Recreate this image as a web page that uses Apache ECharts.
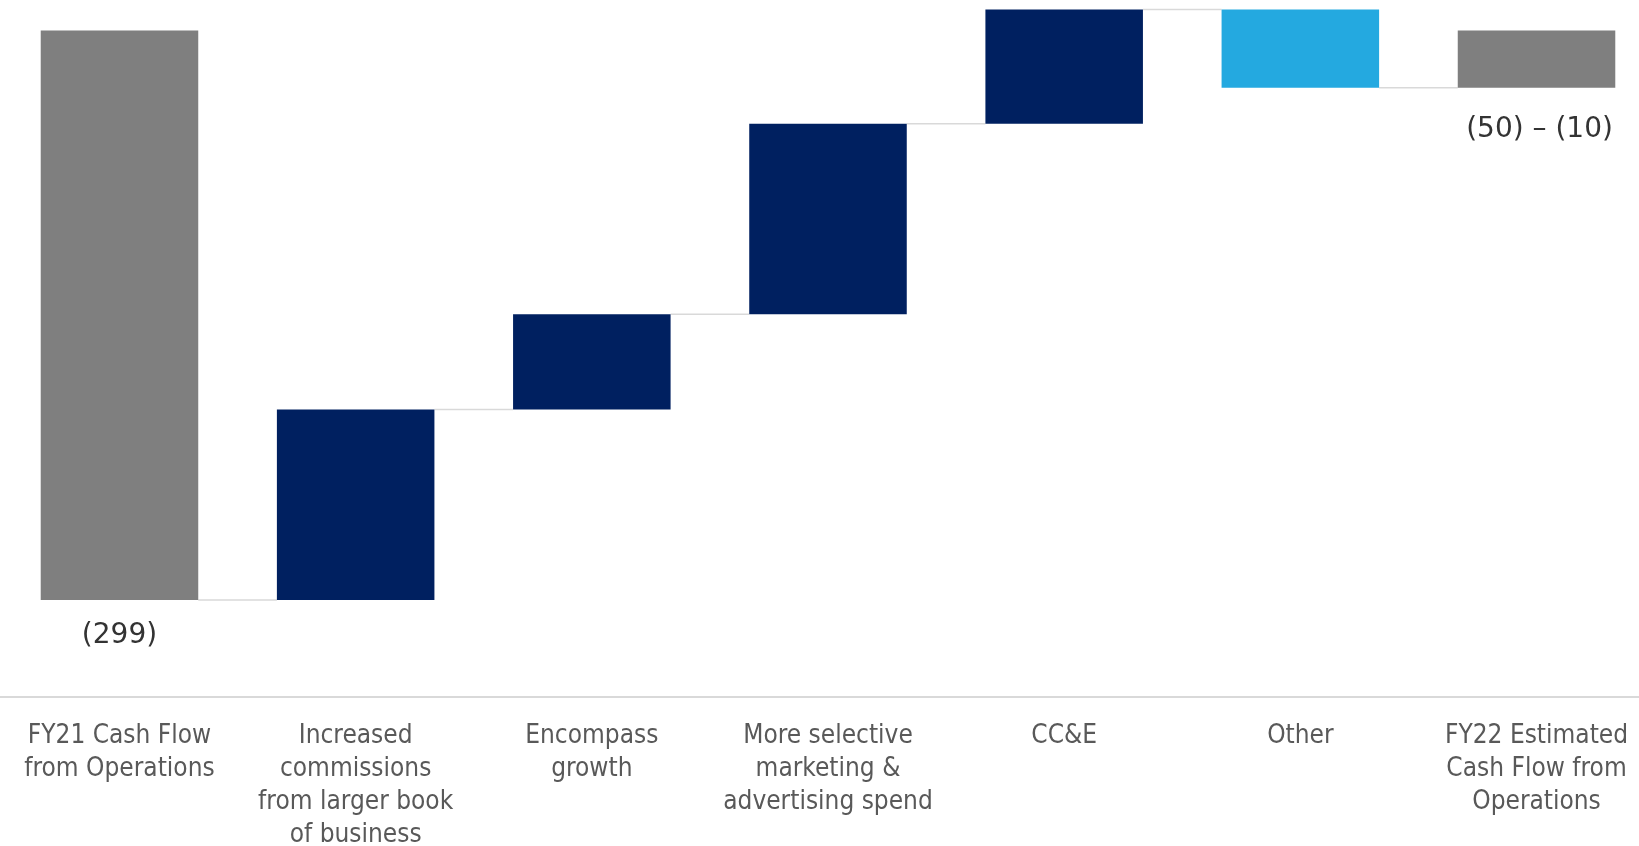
<!DOCTYPE html>
<html>
<head>
<meta charset="utf-8">
<style>
  html, body { margin: 0; padding: 0; background: #ffffff; }
  #chart { width: 1639px; height: 846px; }
</style>
<script src="https://cdn.jsdelivr.net/npm/echarts@6/dist/echarts.min.js"></script>
</head>
<body>
<div id="chart"></div>
<script>
// Cash flow bridge, FY21 -> FY22 estimate ($M)
const categories = [
  'FY21 Cash Flow\nfrom Operations',
  'Increased\ncommissions\nfrom larger book\nof business',
  'Encompass\ngrowth',
  'More selective\nmarketing &\nadvertising spend',
  'CC&E',
  'Other',
  'FY22 Estimated\nCash Flow from\nOperations'
];
// totals are absolute levels, steps are changes from the previous level
const kinds = ['total', 'step', 'step', 'step', 'step', 'step', 'total'];
const values = [-299, 100, 50, 100, 60, -41, -30];
const valueLabels = ['(299)', '', '', '', '', '', '(50) \u2013 (10)'];

const COLORS = {
  total: '#7f7f7f',
  up: '#002060',
  down: '#24a9e0',
  connector: '#d9d9d9',
  label: '#333333',
  axisText: '#595959'
};

// running start/end of every bar
const bars = [];
let level = 0;
values.forEach((v, i) => {
  let start, end;
  if (kinds[i] === 'total') { start = 0; end = v; }
  else { start = level; end = level + v; }
  level = end;
  bars.push([i, start, end]);
});

const BAR_RATIO = 0.667;

function renderBar(params, api) {
  const i = api.value(0);
  const start = api.value(1);
  const end = api.value(2);
  const band = api.size([1, 0])[0];
  const w = band * BAR_RATIO;
  const p0 = api.coord([i, start]);
  const p1 = api.coord([i, end]);
  const top = Math.min(p0[1], p1[1]);
  const h = Math.abs(p1[1] - p0[1]);
  let color;
  if (kinds[i] === 'total') color = COLORS.total;
  else color = values[i] >= 0 ? COLORS.up : COLORS.down;

  const children = [];
  if (i < bars.length - 1) {
    const next = api.coord([i + 1, end]);
    children.push({
      type: 'line',
      shape: { x1: p1[0] + w / 2, y1: p1[1], x2: next[0] - w / 2, y2: p1[1] },
      style: { stroke: COLORS.connector, lineWidth: 1.5 },
      z2: 1
    });
  }
  children.push({
    type: 'rect',
    shape: { x: p0[0] - w / 2, y: top, width: w, height: h },
    style: { fill: color },
    z2: 2
  });
  if (valueLabels[i]) {
    const last = i === bars.length - 1;
    const bottom = top + h;
    children.push({
      type: 'text',
      x: p0[0] + (last ? 3 : 0),
      y: bottom + (last ? 42 : 36),
      style: {
        text: valueLabels[i],
        fill: COLORS.label,
        font: '28px "DejaVu Sans", Verdana, sans-serif',
        align: 'center',
        verticalAlign: 'middle'
      },
      z2: 3
    });
  }
  return { type: 'group', children: children };
}

const chart = echarts.init(document.getElementById('chart'), null, { renderer: 'canvas' });
chart.setOption({
  animation: false,
  backgroundColor: '#ffffff',
  grid: {
    left: 1.4, right: -15.6, top: 2, bottom: 149,
    containLabel: false,
    outerBoundsMode: 'none'
  },
  xAxis: {
    type: 'category',
    data: categories,
    axisTick: { show: false },
    axisLine: { show: false },
    axisLabel: {
      interval: 0,
      margin: 23,
      color: COLORS.axisText,
      fontFamily: '"Liberation Sans Narrow", "DejaVu Sans Condensed", "Liberation Sans", sans-serif',
      fontSize: 26,
      lineHeight: 33,
      align: 'center'
    },
    splitLine: { show: false }
  },
  yAxis: {
    type: 'value',
    min: -350,
    max: 15,
    show: false,
    splitLine: { show: false }
  },
  series: [{
    type: 'custom',
    renderItem: renderBar,
    data: bars,
    encode: { x: 0, y: [1, 2] },
    clip: false
  }],
  graphic: [{
    // category axis rule, running the full page width
    type: 'line',
    shape: { x1: 0, y1: 697, x2: 1639, y2: 697 },
    style: { stroke: '#d9d9d9', lineWidth: 2 },
    silent: true
  }]
});
</script>
</body>
</html>
